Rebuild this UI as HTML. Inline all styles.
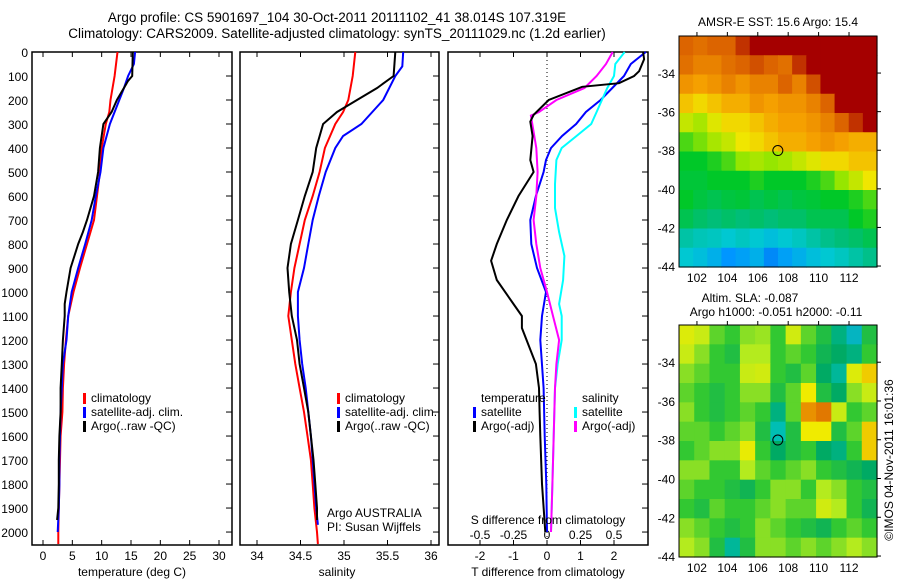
<!DOCTYPE html>
<html><head><meta charset="utf-8"><style>
body{margin:0;background:#fff;}
svg{display:block;font-family:"Liberation Sans",sans-serif;}
text{font-size:12px;fill:#000;}
</style></head><body>
<svg id="chart" width="900" height="580" viewBox="0 0 900 580">
<text x="337" y="22" text-anchor="middle" style="font-size:13.5px">Argo profile: CS 5901697_104 30-Oct-2011 20111102_41 38.014S 107.319E</text>
<text x="337" y="38" text-anchor="middle" style="font-size:13.5px">Climatology: CARS2009. Satellite-adjusted climatology: synTS_20111029.nc (1.2d earlier)</text>
<g id="g"></g>
</svg>
<script>
// ---- data ----
const tDepth=[0,100,120,200,250,300,400,500,600,700,750,800,900,1000,1050,1100,1200,1300,1400,1500,1600,1700,1800,1900,1950];
const tArgo=[15.3,15.2,14.5,12.6,11.7,10.3,9.7,9.4,8.7,7.5,6.8,6.0,4.7,4.0,3.7,3.7,3.4,3.2,3.0,3.0,2.8,2.7,2.7,2.6,2.4];
const tClimDepth=[0,100,200,250,300,400,500,600,700,800,900,1000,1100,1200,1300,1400,1500,1600,1700,1800,1900,2000,2050];
const tClim=[12.7,12.2,11.5,11.3,10.7,10.0,9.7,9.2,8.7,7.5,6.3,5.2,4.3,3.9,3.6,3.4,3.3,3.0,2.9,2.8,2.7,2.6,2.6];
const tSatDepth=[0,50,100,150,200,300,400,500,600,700,800,900,1000,1100,1200,1300,1400,1500,1600,1700,1800,1900,2000];
const tSat=[15.7,15.5,14.5,13.8,13.0,11.4,10.3,9.8,9.0,8.3,7.2,6.0,4.9,4.3,4.0,3.4,3.2,3.0,2.9,2.8,2.8,2.7,2.5];
const sArgoDepth=[0,100,150,200,250,300,400,500,600,700,800,900,1000,1100,1200,1300,1400,1500,1600,1700,1800,1900,1950];
const sArgo=[35.59,35.57,35.38,35.15,34.92,34.76,34.68,34.64,34.55,34.47,34.39,34.35,34.37,34.40,34.46,34.49,34.54,34.59,34.62,34.65,34.67,34.69,34.69];
const sClimDepth=[0,100,200,250,300,400,500,600,700,800,900,1000,1100,1200,1300,1400,1500,1600,1700,1800,1900,2000,2050];
const sClim=[35.13,35.10,35.05,34.99,34.90,34.78,34.72,34.64,34.55,34.49,34.43,34.39,34.36,34.40,34.44,34.49,34.54,34.58,34.62,34.64,34.66,34.69,34.70];
const sSatDepth=[0,60,100,200,300,350,400,500,600,700,800,900,1000,1100,1200,1300,1400,1500,1600,1700,1800,1900,1970];
const sSat=[35.68,35.67,35.59,35.45,35.20,34.99,34.90,34.79,34.71,34.64,34.59,34.54,34.47,34.47,34.49,34.52,34.56,34.59,34.62,34.64,34.66,34.68,34.70];
const dTArgoDepth=[0,30,80,100,130,145,200,262,290,350,450,500,600,700,800,870,950,1050,1100,1150,1300,1400,1500,1600,1800,2000];
const dTArgo=[2.87,2.9,2.75,2.6,2.15,1.05,0.05,-0.4,-0.5,-0.43,-0.5,-0.4,-0.85,-1.2,-1.5,-1.67,-1.5,-1.0,-0.75,-0.75,-0.33,-0.24,-0.22,-0.2,-0.15,-0.05];
const dTSatDepth=[0,50,100,150,200,250,300,350,400,450,500,600,700,800,900,1000,1100,1200,1400,1600,1800,2000];
const dTSat=[2.95,2.5,2.3,1.95,1.6,1.16,0.87,0.45,0.12,-0.03,-0.1,-0.33,-0.5,-0.47,-0.3,-0.03,-0.15,-0.2,-0.1,-0.07,-0.02,0];
const dSArgoDepth=[0,50,100,150,200,250,265,300,400,500,600,700,800,900,1000,1100,1200,1300,1400,1600,1800,2000];
const dSArgo=[0.49,0.44,0.37,0.28,0.07,-0.06,-0.12,-0.11,-0.08,-0.07,-0.08,-0.1,-0.08,-0.05,0,0.045,0.09,0.07,0.06,0.05,0.04,0.03];
const dSSatDepth=[0,50,100,150,200,250,300,350,400,450,550,650,750,850,950,1050,1100,1200,1300,1400,1600,1800,2000];
const dSSat=[0.58,0.51,0.5,0.45,0.41,0.37,0.33,0.22,0.11,0.07,0.06,0.06,0.09,0.13,0.12,0.09,0.11,0.11,0.08,0.06,0.05,0.04,0.03];
const depthTicks=[0,100,200,300,400,500,600,700,800,900,1000,1100,1200,1300,1400,1500,1600,1700,1800,1900,2000];
const tTicks=[0,5,10,15,20,25,30];
const sTicks=[34,34.5,35,35.5,36];
const dTTicks=[-2,-1,0,1,2];
const dSTicks=[-0.5,-0.25,0,0.25,0.5];
const lonTicks=[102,104,106,108,110,112];
const latTicks=[-34,-36,-38,-40,-42,-44];
const sstGrid=[
[0.9,0.88,0.9,0.9,0.95,1,1,1,1,1,1,1,1,1],
[0.88,0.85,0.85,0.88,0.9,0.92,0.9,0.88,0.95,1,1,1,1,1],
[0.82,0.8,0.82,0.85,0.82,0.85,0.85,0.9,0.85,0.92,1,1,1,1],
[0.75,0.72,0.75,0.78,0.78,0.82,0.8,0.82,0.82,0.85,0.9,1,1,1],
[0.65,0.62,0.68,0.72,0.72,0.75,0.78,0.8,0.8,0.82,0.85,0.9,0.95,1],
[0.55,0.58,0.62,0.65,0.7,0.72,0.75,0.78,0.78,0.8,0.82,0.8,0.78,0.78],
[0.5,0.5,0.52,0.55,0.6,0.62,0.6,0.62,0.65,0.68,0.72,0.72,0.75,0.75],
[0.48,0.48,0.5,0.5,0.5,0.52,0.5,0.5,0.5,0.52,0.55,0.6,0.65,0.7],
[0.5,0.47,0.45,0.47,0.48,0.45,0.47,0.45,0.47,0.48,0.5,0.5,0.52,0.55],
[0.45,0.42,0.4,0.42,0.4,0.42,0.4,0.42,0.42,0.45,0.45,0.45,0.5,0.52],
[0.35,0.33,0.32,0.3,0.32,0.3,0.28,0.3,0.32,0.35,0.38,0.4,0.42,0.45],
[0.3,0.28,0.25,0.2,0.22,0.25,0.18,0.22,0.25,0.28,0.3,0.32,0.35,0.38]];
const slaGrid=[
[0.75,0.7,0.55,0.5,0.6,0.62,0.5,0.72,0.55,0.45,0.3,0.15,0.45],
[0.7,0.6,0.5,0.45,0.65,0.65,0.5,0.55,0.5,0.4,0.35,0.3,0.5],
[0.6,0.55,0.5,0.5,0.7,0.72,0.5,0.45,0.55,0.35,0.25,0.75,0.85],
[0.55,0.5,0.45,0.5,0.6,0.6,0.45,0.55,0.8,0.45,0.35,0.6,0.7],
[0.6,0.5,0.45,0.5,0.55,0.5,0.3,0.55,0.95,1.0,0.7,0.5,0.55],
[0.55,0.55,0.5,0.55,0.6,0.45,0.2,0.45,0.8,0.8,0.45,0.55,0.85],
[0.5,0.55,0.6,0.6,0.78,0.5,0.35,0.45,0.5,0.35,0.3,0.5,0.85],
[0.6,0.6,0.5,0.5,0.65,0.55,0.5,0.55,0.6,0.5,0.45,0.4,0.35],
[0.55,0.5,0.5,0.45,0.4,0.5,0.6,0.6,0.5,0.65,0.6,0.5,0.45],
[0.5,0.45,0.55,0.5,0.5,0.55,0.6,0.55,0.55,0.72,0.65,0.5,0.4],
[0.6,0.55,0.5,0.45,0.5,0.6,0.55,0.5,0.45,0.4,0.5,0.55,0.5],
[0.65,0.6,0.45,0.25,0.45,0.6,0.6,0.55,0.6,0.55,0.6,0.65,0.6]];
const argoLon=107.319, argoLat=-38.014;

// ---- helpers ----
const NS="http://www.w3.org/2000/svg";
const G=document.getElementById('g');
function mk(tag,attrs,parent){const e=document.createElementNS(NS,tag);for(const k in attrs)e.setAttribute(k,attrs[k]);(parent||G).appendChild(e);return e;}
function txt(x,y,s,anchor,name,size){const e=mk('text',{x:x,y:y,'text-anchor':anchor||'middle'});if(size)e.style.fontSize=size+'px';e.textContent=s;


return e;}
const PT=52,PB=545,D0=0,D1=2054;
const yD=d=>PT+(d-D0)/(D1-D0)*(PB-PT);
function lin(a,b,pa,pb){return v=>pa+(v-a)/(b-a)*(pb-pa);}

function panel(L,R,name){
  const r=mk('rect',{x:L,y:PT,width:R-L,height:PB-PT,fill:'none',stroke:'#000','stroke-width':1.5});
  
  
  depthTicks.forEach(d=>{mk('line',{x1:R,x2:R-6,y1:yD(d),y2:yD(d),stroke:'#000'});});
}
function xticks(xf,ticks,L,name,labelY){
  ticks.forEach(t=>{const x=xf(t);mk('line',{x1:x,x2:x,y1:PT,y2:PT+5,stroke:'#000'});mk('line',{x1:x,x2:x,y1:PB,y2:PB-5,stroke:'#000'});
  if(labelY) txt(x,labelY,String(t),'middle',name+'-tick-label');});
}
function series(xf,depths,vals,color,name){
  const pts=depths.map((d,i)=>xf(vals[i]).toFixed(1)+','+yD(d).toFixed(1)).join(' ');
  const p=mk('polyline',{points:pts,fill:'none',stroke:color,'stroke-width':2});
  
  
}
function legend(x,y,color,label,name){
  const b=mk('rect',{x:x,y:y-9,width:3,height:11,fill:color});
  
  
  txt(x+8,y,label,'start',name+'-label');
}

depthTicks.forEach(d=>txt(28,yD(d)+5,String(d),'end','depth-tick-label'));

const xT=lin(0,30,43,219);
panel(32,232,'temperature-panel');
xticks(xT,tTicks,32,'temperature',560);
series(xT,tClimDepth,tClim,'#ff0000','temp-climatology-line');
series(xT,tSatDepth,tSat,'#0000ff','temp-satellite-line');
series(xT,tDepth,tArgo,'#000000','temp-argo-line');
txt(132,576,'temperature (deg C)','middle','temperature-axis-title');
legend(83,402,'#ff0000','climatology','temp-legend-climatology');
legend(83,416,'#0000ff','satellite-adj. clim.','temp-legend-satellite');
legend(83,430,'#000000','Argo(..raw -QC)','temp-legend-argo');

const xS=lin(34,36,257,431);
panel(240,439,'salinity-panel');
xticks(xS,sTicks,240,'salinity',560);
series(xS,sClimDepth,sClim,'#ff0000','sal-climatology-line');
series(xS,sSatDepth,sSat,'#0000ff','sal-satellite-line');
series(xS,sArgoDepth,sArgo,'#000000','sal-argo-line');
txt(337,576,'salinity','middle','salinity-axis-title');
legend(337,402,'#ff0000','climatology','sal-legend-climatology');
legend(337,416,'#0000ff','satellite-adj. clim.','sal-legend-satellite');
legend(337,430,'#000000','Argo(..raw -QC)','sal-legend-argo');
txt(327,517,'Argo AUSTRALIA','start','agency-label');
txt(327,531,'PI: Susan Wijffels','start','pi-label');

const xdT=lin(-2,2,480,614);
const xdS=lin(-0.5,0.5,480,614);
panel(448,648,'difference-panel');
xticks(xdT,dTTicks,448,'t-diff',560);
dSTicks.forEach(t=>txt(xdS(t),539,String(t),'middle','s-diff-tick-label'));
mk('line',{x1:xdT(0),x2:xdT(0),y1:PT,y2:PB,stroke:'#000','stroke-dasharray':'1,3'});
series(xdT,dTSatDepth,dTSat,'#0000ff','tdiff-satellite-line');
series(xdS,dSSatDepth,dSSat,'#00ffff','sdiff-satellite-line');
series(xdS,dSArgoDepth,dSArgo,'#ff00ff','sdiff-argo-line');
series(xdT,dTArgoDepth,dTArgo,'#000000','tdiff-argo-line');
txt(548,524,'S difference from climatology','middle','s-diff-axis-title');
txt(548,576,'T difference from climatology','middle','t-diff-axis-title');
txt(481,402,'temperature','start','tdiff-legend-title');
legend(473,416,'#0000ff','satellite','tdiff-legend-satellite');
legend(473,430,'#000000','Argo(-adj)','tdiff-legend-argo');
txt(582,402,'salinity','start','sdiff-legend-title');
legend(574,416,'#00ffff','satellite','sdiff-legend-satellite');
legend(574,430,'#ff00ff','Argo(-adj)','sdiff-legend-argo');

function lerpC(stops,v){v=Math.max(0,Math.min(1,v));for(let i=1;i<stops.length;i++){if(v<=stops[i][0]){const a=stops[i-1],b=stops[i],f=(v-a[0])/(b[0]-a[0]);return 'rgb('+[0,1,2].map(k=>Math.round(a[1][k]+f*(b[1][k]-a[1][k]))).join(',')+')';}}return 'rgb('+stops[stops.length-1][1].join(',')+')';}
const sstStops=[[0,[0,20,180]],[0.2,[0,150,255]],[0.3,[0,200,210]],[0.4,[0,190,120]],[0.5,[0,200,40]],[0.6,[150,230,0]],[0.7,[240,230,0]],[0.8,[245,160,0]],[0.9,[220,100,0]],[1,[165,0,0]]];
const slaStops=[[0,[20,150,230]],[0.2,[0,190,180]],[0.35,[0,170,100]],[0.5,[50,200,50]],[0.65,[180,235,30]],[0.8,[240,235,0]],[0.9,[240,170,0]],[1,[225,120,0]]];
const ML=679,MR=877,LON0=100.82,LON1=113.84;
function map(top,bot,grid,stops,name){
  const xL=lin(LON0,LON1,ML,MR), yL=lin(-32.08,-44.05,top,bot);
  const rows=grid.length, cols=grid[0].length;
  const cw=(MR-ML)/cols, ch=(bot-top)/rows;
  grid.forEach((row,i)=>row.forEach((v,j)=>{
    const c=mk('rect',{x:(ML+j*cw).toFixed(2),y:(top+i*ch).toFixed(2),width:(cw+0.6).toFixed(2),height:(ch+0.6).toFixed(2),fill:lerpC(stops,v)});
    
    
  }));
  const f=mk('rect',{x:ML,y:top,width:MR-ML,height:bot-top,fill:'none',stroke:'#000','stroke-width':1});
  
  
  lonTicks.forEach(t=>{mk('line',{x1:xL(t),x2:xL(t),y1:top,y2:top-4,stroke:'#000'});txt(xL(t),bot+15,String(t),'middle',name+'-lon-label');});
  latTicks.forEach(t=>{mk('line',{x1:MR,x2:MR+4,y1:yL(t),y2:yL(t),stroke:'#000'});txt(ML-4,yL(t)+5,String(t),'end',name+'-lat-label');});
  const m=mk('circle',{cx:xL(argoLon),cy:yL(argoLat),r:5,fill:'none',stroke:'#000','stroke-width':1});
  
  
}
map(36,267,sstGrid,sstStops,'sst-map');
map(325,557,slaGrid,slaStops,'sla-map');
txt(778,26,'AMSR-E SST: 15.6  Argo: 15.4','middle','sst-map-title');
txt(750,302,'Altim. SLA: -0.087','middle','sla-map-title');
txt(776,316,'Argo h1000: -0.051  h2000: -0.11','middle','sla-map-subtitle');
const v=txt(0,0,'©IMOS 04-Nov-2011 16:01:36','middle','timestamp-label');
v.setAttribute('transform','translate(893,460) rotate(-90)');
</script>
</body></html>
